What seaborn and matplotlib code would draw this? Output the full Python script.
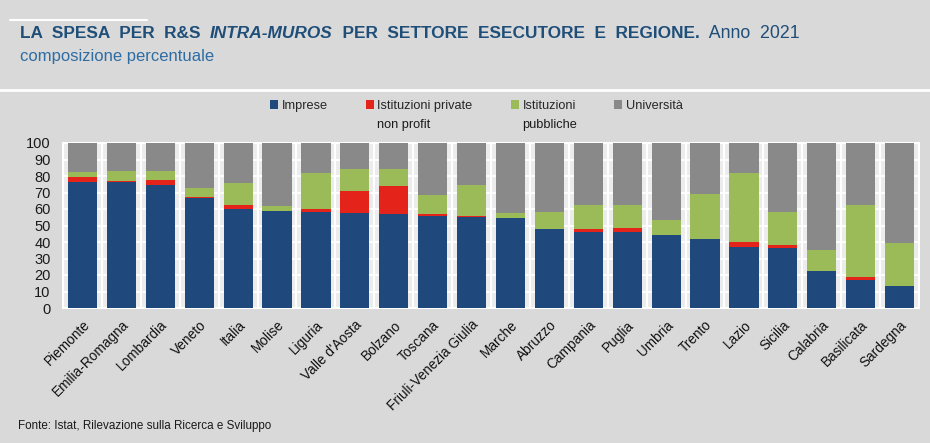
import numpy as np
import pandas as pd
import matplotlib
matplotlib.use("Agg")
import matplotlib.pyplot as plt
import seaborn as sns
from matplotlib.patches import Patch
from matplotlib.lines import Line2D

# ---------------- data ----------------
regioni = ["Piemonte", "Emilia-Romagna", "Lombardia", "Veneto", "Italia", "Molise",
           "Liguria", "Valle d'Aosta", "Bolzano", "Toscana", "Friuli-Venezia Giulia",
           "Marche", "Abruzzo", "Campania", "Puglia", "Umbria", "Trento", "Lazio",
           "Sicilia", "Calabria", "Basilicata", "Sardegna"]
imprese = [76.4, 76.4, 74.5, 66.5, 60.0, 58.8, 58.0, 57.6, 56.8, 56.0, 55.2,
           54.5, 47.7, 46.1, 45.9, 44.2, 41.8, 36.8, 36.6, 22.4, 17.2, 13.1]
private_np = [2.8, 0.8, 2.9, 0.8, 2.2, 0.2, 2.0, 13.1, 17.3, 0.8, 0.3,
              0.2, 0.2, 1.8, 2.8, 0.2, 0.2, 3.4, 1.8, 0.2, 1.4, 0.2]
pubbliche = [3.4, 6.0, 5.8, 5.2, 13.8, 2.6, 21.8, 13.7, 10.3, 11.5, 19.2,
             3.1, 10.1, 14.3, 13.5, 8.7, 27.1, 41.4, 19.6, 12.8, 43.6, 26.1]
universita = [17.4, 16.8, 16.8, 27.5, 24.0, 38.4, 18.2, 15.6, 15.6, 31.7, 25.3,
              42.2, 42.0, 37.8, 37.8, 46.9, 30.9, 18.4, 42.0, 64.6, 37.8, 60.6]
serie = ["Imprese", "Istituzioni private\nnon profit", "Istituzioni\npubbliche", "Università"]
y_ticks = list(range(0, 101, 10))

title_parts = [("LA  SPESA  PER  R&S  ", "bold", "normal", 12.4),
               ("INTRA-MUROS", "bold", "italic", 12.4),
               ("  PER  SETTORE  ESECUTORE  E  REGIONE.", "bold", "normal", 12.4),
               ("  Anno  2021", "normal", "normal", 12.8)]
subtitle = "composizione percentuale"
fonte = "Fonte: Istat, Rilevazione sulla Ricerca e Sviluppo"

# ---------------- style ----------------
sns.set_theme(style="white")
FAM = ["Liberation Sans", "DejaVu Sans"]
plt.rcParams["font.family"] = FAM

BG = "#d9d9d9"
C_BLUE, C_RED, C_GREEN, C_GREY = "#1f497d", "#e4231b", "#9bbb59", "#898989"
TITLE_C, SUB_C = "#1f4e79", "#2e6ca4"

W, H = 930, 443
fig = plt.figure(figsize=(W / 100, H / 100), dpi=100, facecolor=BG)
ax = fig.add_axes([63 / W, 1 - 308 / H, (919 - 63) / W, (308 - 143) / H])
ax.set_facecolor("#ececec")

df = pd.DataFrame({"Regione": regioni, "imp": imprese, "np": private_np,
                   "pub": pubbliche, "uni": universita})
df["c1"] = df["imp"]
df["c2"] = df["c1"] + df["np"]
df["c3"] = df["c2"] + df["pub"]
df["c4"] = df["c3"] + df["uni"]

for col, color in [("c4", C_GREY), ("c3", C_GREEN), ("c2", C_RED), ("c1", C_BLUE)]:
    sns.barplot(data=df, x="Regione", y=col, color=color, saturation=1, width=0.75,
                ax=ax, zorder=3, linewidth=0, errorbar=None)

ax.set_xlim(-0.5, len(regioni) - 0.5)
ax.set_ylim(0, 100)
ax.set_yticks(y_ticks)
ax.set_axisbelow(True)
ax.yaxis.grid(True, color="white", lw=1.3, zorder=0)
ax.set_xticks(np.arange(0.5, len(regioni) - 0.5), minor=True)
ax.xaxis.grid(True, which="minor", color="white", lw=1.5, zorder=0)
ax.xaxis.grid(False, which="major")
for s in ax.spines.values():
    s.set_color("white")
    s.set_linewidth(1.5)
ax.set_xlabel("")
ax.set_ylabel("")
ax.tick_params(axis="y", length=0, pad=9, labelsize=10.5, labelcolor="#1a1a1a")
ax.tick_params(axis="x", which="both", length=0, pad=7, labelsize=9.8, labelcolor="#111111")
for lab in ax.get_xticklabels():
    lab.set_rotation(45)
    lab.set_ha("right")
    lab.set_rotation_mode("anchor")

# ---------------- legend ----------------
first_lines = [s.split("\n")[0] for s in serie]
handles = [Patch(facecolor=c, edgecolor="none") for c in (C_BLUE, C_RED, C_GREEN, C_GREY)]
leg = fig.legend(handles, first_lines, loc="upper left", bbox_to_anchor=(270 / W, 1 - 100 / H),
                 ncol=4, frameon=False, fontsize=9.2, handlelength=0.6, handleheight=0.6,
                 handletextpad=0.3, columnspacing=3.0, borderaxespad=0, borderpad=0)

# ---------------- texts ----------------
fig.canvas.draw()
r = fig.canvas.get_renderer()
x = 20
for txt, w, st, fs in title_parts:
    t = fig.text(x / W, 1 - 38 / H, txt, fontsize=fs, fontweight=w, fontstyle=st,
                 color=TITLE_C, va="baseline")
    bb = t.get_window_extent(r)
    x = bb.x1
fig.text(20 / W, 1 - 61 / H, subtitle, fontsize=12, color=SUB_C, va="baseline")
fig.text(18 / W, 1 - 429 / H, fonte, fontsize=8.4, color="#1a1a1a", va="baseline")

# second lines of legend labels
for i, s in enumerate(serie):
    parts = s.split("\n")
    if len(parts) > 1:
        bb = leg.get_texts()[i].get_window_extent(r)
        fig.text(bb.x0 / W, (bb.y0 - 19) / H, parts[1], fontsize=9.2, color="#1a1a1a",
                 va="bottom", ha="left")

# white separator lines
fig.add_artist(Line2D([0, 1], [1 - 90 / H, 1 - 90 / H], color="white", lw=2))
fig.add_artist(Line2D([10 / W, 147 / W], [1 - 20 / H, 1 - 20 / H], color="white", lw=1.5))

fig.savefig("out.png", dpi=100, facecolor=BG)
